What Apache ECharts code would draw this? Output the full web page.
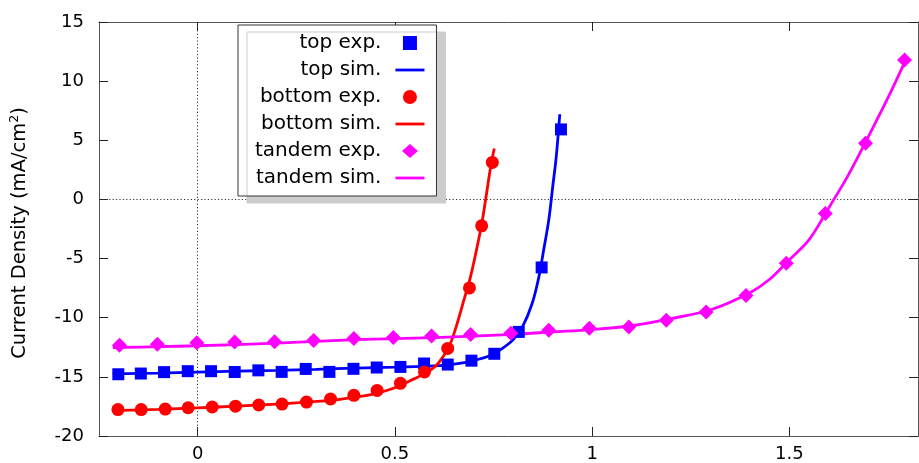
<!DOCTYPE html>
<html>
<head>
<meta charset="utf-8">
<script src="https://cdn.jsdelivr.net/npm/echarts@6/dist/echarts.min.js"></script>
<style>
  html, body { margin: 0; padding: 0; background: #fff; }
  #chart { width: 919px; height: 463px; }
</style>
</head>
<body>
<div id="chart"></div>
<script>
// measured points (V, mA/cm2)
const topExpV = [-0.201, -0.144, -0.085, -0.025, 0.034, 0.094, 0.154, 0.213, 0.274, 0.334, 0.395, 0.454, 0.514, 0.574, 0.634, 0.694, 0.752, 0.814, 0.872, 0.921]
const topExpJ = [-14.78, -14.72, -14.6, -14.52, -14.52, -14.59, -14.45, -14.58, -14.33, -14.58, -14.32, -14.21, -14.16, -13.87, -13.96, -13.63, -13.05, -11.2, -5.75, 5.92]
const botExpV = [-0.202, -0.143, -0.082, -0.024, 0.037, 0.096, 0.155, 0.214, 0.276, 0.337, 0.396, 0.455, 0.514, 0.575, 0.634, 0.689, 0.72, 0.747]
const botExpJ = [-17.77, -17.77, -17.72, -17.61, -17.55, -17.48, -17.38, -17.3, -17.13, -16.87, -16.56, -16.15, -15.55, -14.58, -12.6, -7.48, -2.23, 3.13]
const tandExpV = [-0.198, -0.102, -0.002, 0.094, 0.195, 0.294, 0.396, 0.496, 0.593, 0.692, 0.794, 0.89, 0.993, 1.093, 1.188, 1.289, 1.39, 1.492, 1.591, 1.693, 1.792]
const tandExpJ = [-12.33, -12.24, -12.12, -12.06, -12.03, -11.92, -11.76, -11.68, -11.55, -11.41, -11.32, -11.05, -10.89, -10.78, -10.21, -9.51, -8.13, -5.39, -1.18, 4.74, 11.79]

// simulated curves
const topSimV = [-0.215, -0.1, 0, 0.1, 0.2, 0.3, 0.4, 0.5, 0.6, 0.65, 0.7, 0.74, 0.77, 0.8, 0.823, 0.848, 0.865, 0.877, 0.89, 0.9, 0.909, 0.918]
const topSimJ = [-14.75, -14.68, -14.6, -14.52, -14.45, -14.36, -14.26, -14.18, -14.08, -13.92, -13.62, -13.22, -12.65, -11.85, -10.8, -8.8, -6.55, -4.3, -1.75, 1.05, 3.6, 7.2]
const botSimV = [-0.215, -0.1, 0, 0.1, 0.2, 0.3, 0.35, 0.4, 0.45, 0.5, 0.55, 0.58, 0.61, 0.637, 0.655, 0.675, 0.692, 0.706, 0.72, 0.731, 0.743, 0.752]
const botSimJ = [-17.85, -17.75, -17.62, -17.47, -17.3, -17.08, -16.95, -16.72, -16.42, -15.92, -15.15, -14.65, -13.85, -12.45, -10.8, -8.5, -6.5, -4.4, -2.1, 0.2, 2.8, 4.3]
const tandSimV = [-0.215, -0.1, 0, 0.2, 0.4, 0.6, 0.8, 0.9, 1.0, 1.1, 1.2, 1.3, 1.4, 1.45, 1.5, 1.55, 1.6, 1.65, 1.7, 1.75, 1.795]
const tandSimJ = [-12.52, -12.45, -12.37, -12.15, -11.86, -11.68, -11.4, -11.2, -11.0, -10.68, -10.07, -9.33, -7.88, -6.75, -5.1, -3.4, -0.7, 2.1, 5.3, 8.6, 11.8]

const xTicks = [0, 0.5, 1, 1.5]

const FONT = 'DejaVu Sans'
const pairs = (xs, ys) => xs.map((x, i) => [x, ys[i]])

const chart = echarts.init(document.getElementById('chart'))

const xAxisBase = {
	type: 'value',
	min: -0.25,
	max: 1.826,
	splitLine: { show: false },
	axisLine: { show: true, onZero: false, lineStyle: { color: '#555', width: 1 } },
	axisTick: { show: true, inside: true, length: 9, customValues: xTicks, lineStyle: { color: '#222' } },
}
const yAxisBase = {
	type: 'value',
	min: -20,
	max: 15,
	interval: 5,
	splitLine: { show: false },
	axisLine: { show: true, onZero: false, lineStyle: { color: '#555', width: 1 } },
	axisTick: { show: true, inside: true, length: 9, lineStyle: { color: '#222' } },
}

function expSeries(name, xs, ys, symbol, size, color) {
	return {
		name: name,
		type: 'scatter',
		data: pairs(xs, ys),
		symbol: symbol,
		symbolSize: size,
		itemStyle: { color: color, opacity: 1 },
		z: 4,
		silent: true
	}
}
function simSeries(name, xs, ys, color) {
	return {
		name: name,
		type: 'line',
		data: pairs(xs, ys),
		symbol: 'none',
		smooth: 0.35,
		lineStyle: { color: color, width: 2.8 },
		itemStyle: { color: color },
		z: 3,
		silent: true
	}
}

const series = [
	expSeries('top exp.', topExpV, topExpJ, 'rect', 12, '#0000ff'),
	simSeries('top sim.', topSimV, topSimJ, '#0000ff'),
	expSeries('bottom exp.', botExpV, botExpJ, 'circle', 13, '#ff0000'),
	simSeries('bottom sim.', botSimV, botSimJ, '#ff0000'),
	expSeries('tandem exp.', tandExpV, tandExpJ, 'diamond', 15, '#ff00ff'),
	simSeries('tandem sim.', tandSimV, tandSimJ, '#ff00ff'),
]
// zero axes (dotted)
series[0].markLine = {
	silent: true,
	symbol: ['none', 'none'],
	label: { show: false },
	lineStyle: { color: '#333', type: [1.2, 2.2], width: 1 },
	data: [{ xAxis: 0 }, { yAxis: 0 }],
	z: 1
}

const lineIcon = 'path://M0 0H29V2.8H0Z'
const squareIcon = 'path://M0 0H12V12H0Z'
const diamondIcon = 'path://M8 0L16 7L8 14L0 7Z'

const option = {
	animation: false,
	textStyle: { fontFamily: FONT },
	grid: { left: 99, right: 1, top: 22, bottom: 27 },
	xAxis: [
		Object.assign({}, xAxisBase, {
			position: 'bottom',
			axisLabel: { customValues: xTicks, fontSize: 18, color: '#000', margin: 9, fontFamily: FONT }
		}),
		Object.assign({}, xAxisBase, { position: 'top', axisLabel: { show: false } })
	],
	yAxis: [
		Object.assign({}, yAxisBase, {
			position: 'left',
			axisLabel: { fontSize: 18, color: '#000', margin: 15, fontFamily: FONT },
			name: '{a|Current Density (mA/cm}{s|2}{a|)}',
			nameLocation: 'middle',
			nameGap: 67,
			nameTextStyle: {
				padding: [0, 8, 0, 0],
				rich: {
					a: { fontSize: 19.5, color: '#000', fontFamily: FONT, lineHeight: 24 },
					s: { fontSize: 12.5, color: '#000', fontFamily: FONT, verticalAlign: 'top', lineHeight: 24 }
				}
			}
		}),
		Object.assign({}, yAxisBase, { position: 'right', axisLabel: { show: false } })
	],
	legend: {
		orient: 'vertical',
		left: 238,
		top: 25,
		align: 'right',
		padding: [8, 12, 8, 17],
		itemWidth: 29,
		itemHeight: 14,
		itemGap: 7,
		symbolKeepAspect: true,
		selectedMode: false,
		backgroundColor: '#fff',
		borderColor: '#333',
		borderWidth: 1,
		borderRadius: 0,
		shadowColor: '#cccccc',
		shadowBlur: 0,
		shadowOffsetX: 9,
		shadowOffsetY: 7,
		textStyle: { fontSize: 20, color: '#000', fontFamily: FONT, padding: [0, 9, 0, 0] },
		data: [
			{ name: 'top exp.', icon: squareIcon },
			{ name: 'top sim.', icon: lineIcon },
			{ name: 'bottom exp.', icon: 'circle' },
			{ name: 'bottom sim.', icon: lineIcon },
			{ name: 'tandem exp.', icon: diamondIcon },
			{ name: 'tandem sim.', icon: lineIcon }
		]
	},
	series: series
}
chart.setOption(option)
</script>
</body>
</html>
